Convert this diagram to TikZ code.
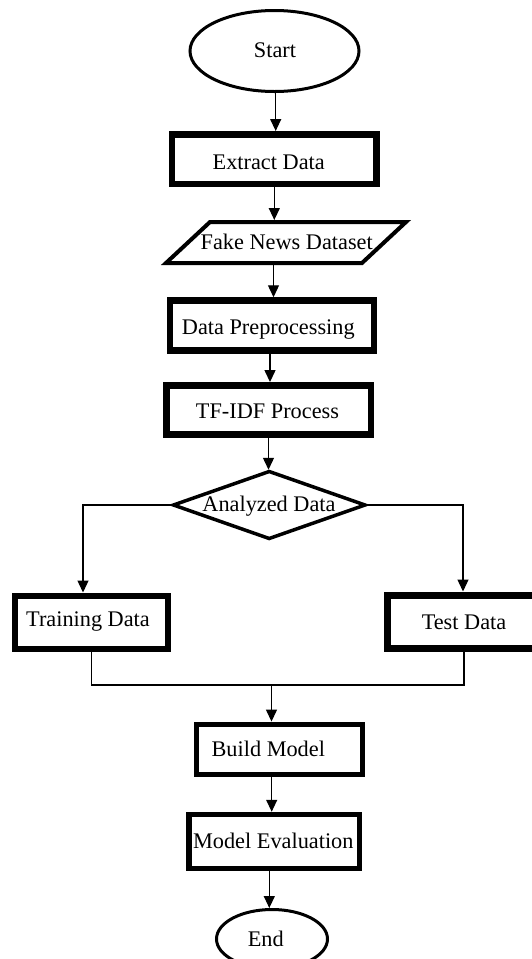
\documentclass[tikz,border=0pt]{standalone}
\usepackage{fontspec}
\setmainfont{Liberation Serif}
\usetikzlibrary{arrows.meta,shapes.geometric}
\newcommand\flowfont{\fontsize{22.3}{26}\selectfont}
\tikzset{
  frame/.style={draw=black, rectangle, inner sep=0pt, line width=6.5pt},
  term/.style={draw=black, ellipse, inner sep=0pt, line width=3pt},
  lbl/.style={font=\flowfont, inner sep=0pt, text height=14.7pt, text depth=0pt},
  link/.style={draw=black, line width=1.3pt},
  arr/.style={link, -{Triangle[length=12pt,width=11pt]}},
}
\begin{document}
\begin{tikzpicture}[x=1pt, y=-1pt]
\path[use as bounding box, clip] (0,0) rectangle (532,959);
\fill[white] (0,0) rectangle (532,959);

% terminators
\node[term, minimum width=169pt, minimum height=81pt] (start) at (274.5,51) {};
\node[lbl] (startt) at (275,50) {Start};

% process boxes
\node[frame, minimum width=204.5pt, minimum height=49.5pt] (extract) at (274.3,159) {};
\node[lbl] (extractt) at (268.7,162) {Extract Data};

% input/output parallelogram
\draw[line width=4pt, line join=miter] (166,263) -- (210,222) -- (406,222) -- (362,263) -- cycle;
\node[inner sep=0pt, outer sep=2pt, minimum width=150pt, minimum height=41pt] (fake) at (286,242.5) {};
\node[lbl] (faket) at (286.7,241.7) {Fake News Dataset};

\node[frame, minimum width=204pt, minimum height=50pt] (prep) at (271.8,325.5) {};
\node[lbl] (prept) at (268.3,327.5) {Data Preprocessing};

\node[frame, minimum width=204.5pt, minimum height=49.4pt] (tfidf) at (268.5,410) {};
\node[lbl] (tfidft) at (267.5,411.3) {TF-IDF Process};

% decision
\draw[line width=3.5pt, line join=miter] (269.2,471.5) -- (365,505) -- (269.2,538.5) -- (173.5,505) -- cycle;
\node[inner sep=0pt, outer sep=1.75pt, minimum width=191.5pt, minimum height=67pt] (analyzed) at (269.2,505) {};
\node[lbl] (analyzedt) at (269,504) {Analyzed Data};

\node[frame, line width=6pt, minimum width=153pt, minimum height=53pt] (train) at (91.5,622) {};
\node[lbl] (traint) at (88,619) {Training Data};

\node[frame, line width=7pt, minimum width=154pt, minimum height=53pt] (test) at (464,621.5) {};
\node[lbl] (testt) at (464,622.5) {Test Data};

\coordinate (join) at (271.5,685);

\node[frame, line width=5pt, minimum width=166pt, minimum height=50.5pt] (build) at (279,749.3) {};
\node[lbl] (buildt) at (268.3,749) {Build Model};

\node[frame, line width=5.5pt, minimum width=170.5pt, minimum height=54pt] (eval) at (274.3,841.5) {};
\node[lbl] (evalt) at (273.3,841) {Model Evaluation};

\node[term, minimum width=111pt, minimum height=59pt] (end) at (272,939) {};
\node[lbl] (endt) at (265.8,939) {End};

% connectors
\draw[arr] ([xshift=1.2pt]start.south) -- ([xshift=1.2pt]start.south |- extract.north);
\draw[arr] (extract.south) -- (extract.south |- fake.north);
\draw[arr] ([xshift=-12.5pt]fake.south) -- ([xshift=-12.5pt]fake.south |- prep.north);
\draw[arr] ([xshift=-1.8pt]prep.south) -- ([xshift=-1.8pt]prep.south |- tfidf.north);
\draw[arr] (tfidf.south) -- (tfidf.south |- analyzed.north);
\draw[arr] (analyzed.west) -| ([xshift=-8.5pt]train.north);
\draw[arr] (analyzed.east) -| ([xshift=-1pt]test.north);
\draw[link] (train.south) |- (join) -| (test.south);
\draw[arr] (join) -- (join |- build.north);
\draw[arr] ([xshift=-7.3pt]build.south) -- ([xshift=-7.3pt]build.south |- eval.north);
\draw[arr] ([xshift=-5pt]eval.south) -- ([xshift=-5pt]eval.south |- end.north);
\end{tikzpicture}
\end{document}
